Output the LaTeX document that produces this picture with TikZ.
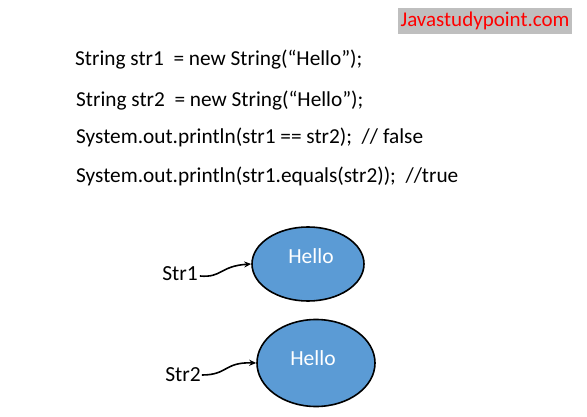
\documentclass[tikz,border=0pt]{standalone}
\usepackage{fontspec}
\setmainfont{Carlito}
\usetikzlibrary{arrows.meta,shapes.geometric}
\begin{document}
\begin{tikzpicture}[x=1pt,y=-1pt,
  code/.style={anchor=west,inner sep=0pt,font=\fontsize{21.3}{24}\selectfont},
  obj/.style={ellipse,draw=black,line width=1.6pt,fill={rgb,255:red,91;green,155;blue,213},inner sep=0pt},
  lbl/.style={inner sep=0pt,font=\fontsize{21.5}{24}\selectfont},
  ref/.style={line width=1.6pt,-{Stealth[length=7pt,width=6pt]}}]
\useasboundingbox (0,0) rectangle (587,417);
\fill[white] (0,0) rectangle (587,417);
\node[fill={rgb,255:red,191;green,191;blue,191},text={rgb,255:red,255;green,0;blue,0},minimum width=174pt,minimum height=26pt,inner sep=0pt,font=\fontsize{21}{24}\selectfont] (wm) at (485,21) {Javastudypoint.com};
\node[code] (l1) at (75,60) {String str1\ \ = new String(“Hello”);};
\node[code] (l2) at (76,101) {String str2\ \ = new String(“Hello”);};
\node[code] (l3) at (76,137) {System.out.println(str1 == str2);\ \ // false};
\node[code] (l4) at (76,176) {System.out.println(str1.equals(str2));\ \ //true};
\node[obj,minimum width=112pt,minimum height=74pt] (e1) at (308,264) {};
\node[obj,minimum width=118pt,minimum height=87pt] (e2) at (316,363) {};
\node[lbl,text=white] (h1) at (311,256) {Hello};
\node[lbl,text=white] (h2) at (313,358) {Hello};
\node[lbl] (s1) at (180,274) {Str1};
\node[lbl] (s2) at (183,375) {Str2};
\draw[ref] (s1.east) ++(2,2) coordinate (a1) .. controls (222,278) and (220,266) .. (e1.west);
\draw[ref] (s2.east) ++(1,0) coordinate (a2) .. controls (228,375) and (224,362) .. (e2.west);
\end{tikzpicture}
\end{document}
